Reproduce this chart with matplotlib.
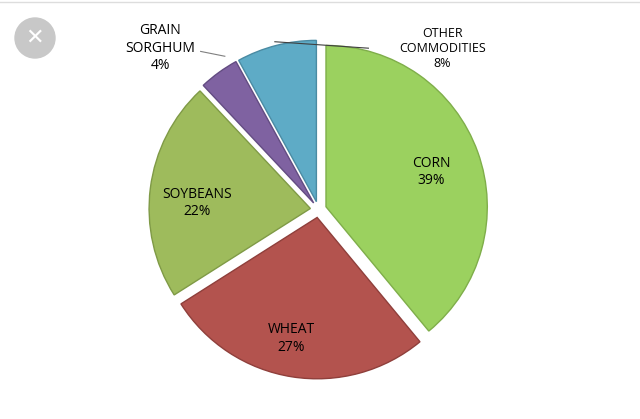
import matplotlib
matplotlib.use("Agg")
import matplotlib.pyplot as plt
from matplotlib.patches import Ellipse

plt.rcParams['font.family'] = ['Open Sans', 'DejaVu Sans']

# data
labels = ["CORN", "WHEAT", "SOYBEANS", "GRAIN\nSORGHUM", "OTHER\nCOMMODITIES"]
shares = [39, 27, 22, 4, 8]
colors = ["#9bd15f", "#b3534e", "#9ebb5c", "#7f62a1", "#5eabc6"]
edges = ["#7fae4a", "#8f3f3b", "#7f9a46", "#634c82", "#4a8ba3"]

fig = plt.figure(figsize=(6.4, 4.19), dpi=100)
ax = fig.add_axes([0.19, 0.03, 0.615, 0.94])

wedges, _ = ax.pie(shares, colors=colors, startangle=90, counterclock=False,
                   explode=[0.05] * len(shares),
                   wedgeprops=dict(linewidth=1))
for w, ec in zip(wedges, edges):
    w.set_edgecolor(ec)
ax.set_xlim(-1.22, 1.22)
ax.set_ylim(-1.22, 1.22)
ax.set_aspect("equal")
ax.axis("off")

fs = 10
ax.text(0.70, 0.23, f"{labels[0]}\n{shares[0]}%", ha="center", va="center", fontsize=fs)
ax.text(-0.17, -0.80, f"{labels[1]}\n{shares[1]}%", ha="center", va="center", fontsize=fs)
ax.text(-0.75, 0.04, f"{labels[2]}\n{shares[2]}%", ha="center", va="center", fontsize=fs)
ax.text(-0.98, 1.0, f"{labels[3]}\n{shares[3]}%", ha="center", va="center", fontsize=fs)
ax.text(0.77, 1.0, f"{labels[4]}\n{shares[4]}%", ha="center", va="center", fontsize=fs * 0.9)
# leader lines
ax.plot([-0.73, -0.58], [0.98, 0.95], color="#808080", lw=0.8)
ax.plot([0.31, -0.27], [1.0, 1.04], color="#404040", lw=0.8)

# close icon and top border of the screenshot
fig.patches.append(Ellipse((35 / 640, 1 - 38 / 419), 40 / 640, 40 / 419,
                           transform=fig.transFigure, color="#c8c8c8", zorder=5))
fig.text(35 / 640, 1 - 38 / 419, "\u2715", ha="center", va="center", color="white",
         fontsize=16, family="DejaVu Sans", zorder=6)
fig.add_artist(plt.Line2D([0, 1], [0.995, 0.995], color="#dddddd", lw=1))

fig.savefig("out.png", dpi=100, facecolor="white")
